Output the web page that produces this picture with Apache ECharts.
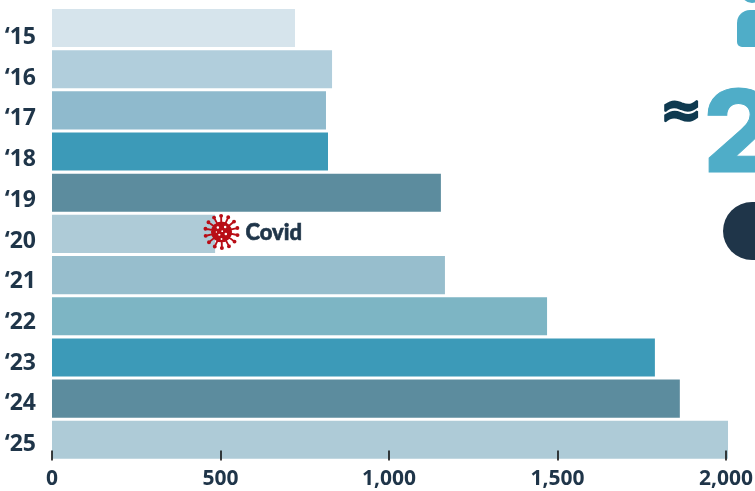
<!DOCTYPE html>
<html><head><meta charset="utf-8">
<style>html,body{margin:0;padding:0;background:#fff;overflow:hidden}#c{width:755px;height:491px}</style>
<script src="https://cdn.jsdelivr.net/npm/echarts@6/dist/echarts.min.js"></script>
</head><body><div id="c"></div>
<script>
const categories=["‘15","‘16","‘17","‘18","‘19","‘20","‘21","‘22","‘23","‘24","‘25"];
const values=[721,831,813,819,1154,484,1166,1469,1789,1863,2006];
const barColors=["#D6E4EC","#B1CEDC","#8FBACD","#3C9AB8","#5C8C9E","#AECBD7","#97BECD","#7DB5C4","#3C9AB8","#5C8C9E","#AECBD7"];
const xTicks=[0,500,1000,1500,2000];
const covidLabel="Covid";
const dark="#1F3549";
function virusPath(){
  const cx=50,cy=50;let d="";
  const circ=(x,y,r,sw)=>`M${x-r} ${y}A${r} ${r} 0 1 ${sw} ${x+r} ${y}A${r} ${r} 0 1 ${sw} ${x-r} ${y}Z`;
  d+=circ(cx,cy,29,0);
  for(let i=0;i<14;i++){
    const a=i/14*2*Math.PI+0.2,c=Math.cos(a),s=Math.sin(a),n=-s,m=c,w=2.6;
    d+=`M${cx+c*25+n*w} ${cy+s*25+m*w}L${cx+c*44+n*w} ${cy+s*44+m*w}L${cx+c*44-n*w} ${cy+s*44-m*w}L${cx+c*25-n*w} ${cy+s*25-m*w}Z`;
    d+=circ(cx+c*45,cy+s*45,5.5,0);
  }
  [[40,38,3.5],[60,36,3.5],[44,58,3],[62,56,3.5],[36,50,2],[52,48,2.5],[50,70,2.5]].forEach(h=>{d+=circ(h[0],h[1],h[2],1);});
  return "path://"+d;
}
const chart=echarts.init(document.getElementById('c'),null,{renderer:'canvas'});
chart.setOption({
  animation:false,
  grid:[{left:52,width:674,top:7.4,height:453,outerBoundsMode:'none'},{left:52,width:674,top:17,height:448,outerBoundsMode:'none'}],
  xAxis:[
    {gridIndex:0,type:'value',min:0,max:2000,interval:500,splitLine:{show:false},axisLine:{show:false},
     axisTick:{show:true,inside:true,length:10,lineStyle:{color:'#111',width:1.6}},
     axisLabel:{color:dark,fontFamily:'Open Sans',fontWeight:700,fontSize:21,margin:8,
       formatter:v=>v.toLocaleString('en-US'),hideOverlap:false},z:10},
    {gridIndex:1,type:'value',show:false,min:0,max:2000}
  ],
  yAxis:[
    {gridIndex:0,type:'category',inverse:true,data:categories,axisLine:{show:false},axisTick:{show:false},axisLabel:{show:false}},
    {gridIndex:1,type:'category',inverse:true,data:categories,axisLine:{show:false},axisTick:{show:false},
     axisLabel:{color:dark,fontFamily:'Open Sans',fontWeight:700,fontSize:23,margin:16}}
  ],
  series:[{
    type:'bar',xAxisIndex:0,yAxisIndex:0,clip:false,barCategoryGap:'7.5%',
    data:values.map((v,i)=>({value:v,itemStyle:{color:barColors[i]}})),
    markPoint:{silent:true,symbol:virusPath(),symbolSize:36,symbolOffset:[1,-2],itemStyle:{color:'#B80D16'},
      data:[{coord:[500,"‘20"],label:{show:true,position:'right',distance:6,offset:[0,1],formatter:covidLabel,color:dark,fontFamily:'Lato',fontWeight:900,fontSize:22,textBorderColor:dark,textBorderWidth:0.6}}]}
  }],
  graphic:[
    {type:'circle',shape:{cx:752,cy:-8,r:11},style:{fill:'#4FADC8'}},
    {type:'rect',shape:{x:737,y:10,width:60,height:37,r:[13,0,0,5]},style:{fill:'#4FADC8'}},
    {type:'text',x:703,y:81,style:{text:'2',fontFamily:'Inter',fontWeight:800,fontSize:114,fill:'#4FADC8',stroke:'#4FADC8',lineWidth:1,textVerticalAlign:'top'}},
    {type:'text',x:660,y:88,style:{text:'≈',fontFamily:'DejaVu Sans',fontWeight:700,fontSize:51,fill:'#0F3A50',stroke:'#0F3A50',lineWidth:2,textVerticalAlign:'top'}},
    {type:'rect',shape:{x:723,y:202,width:80,height:58,r:29},style:{fill:dark}}
  ]
});
</script></body></html>
